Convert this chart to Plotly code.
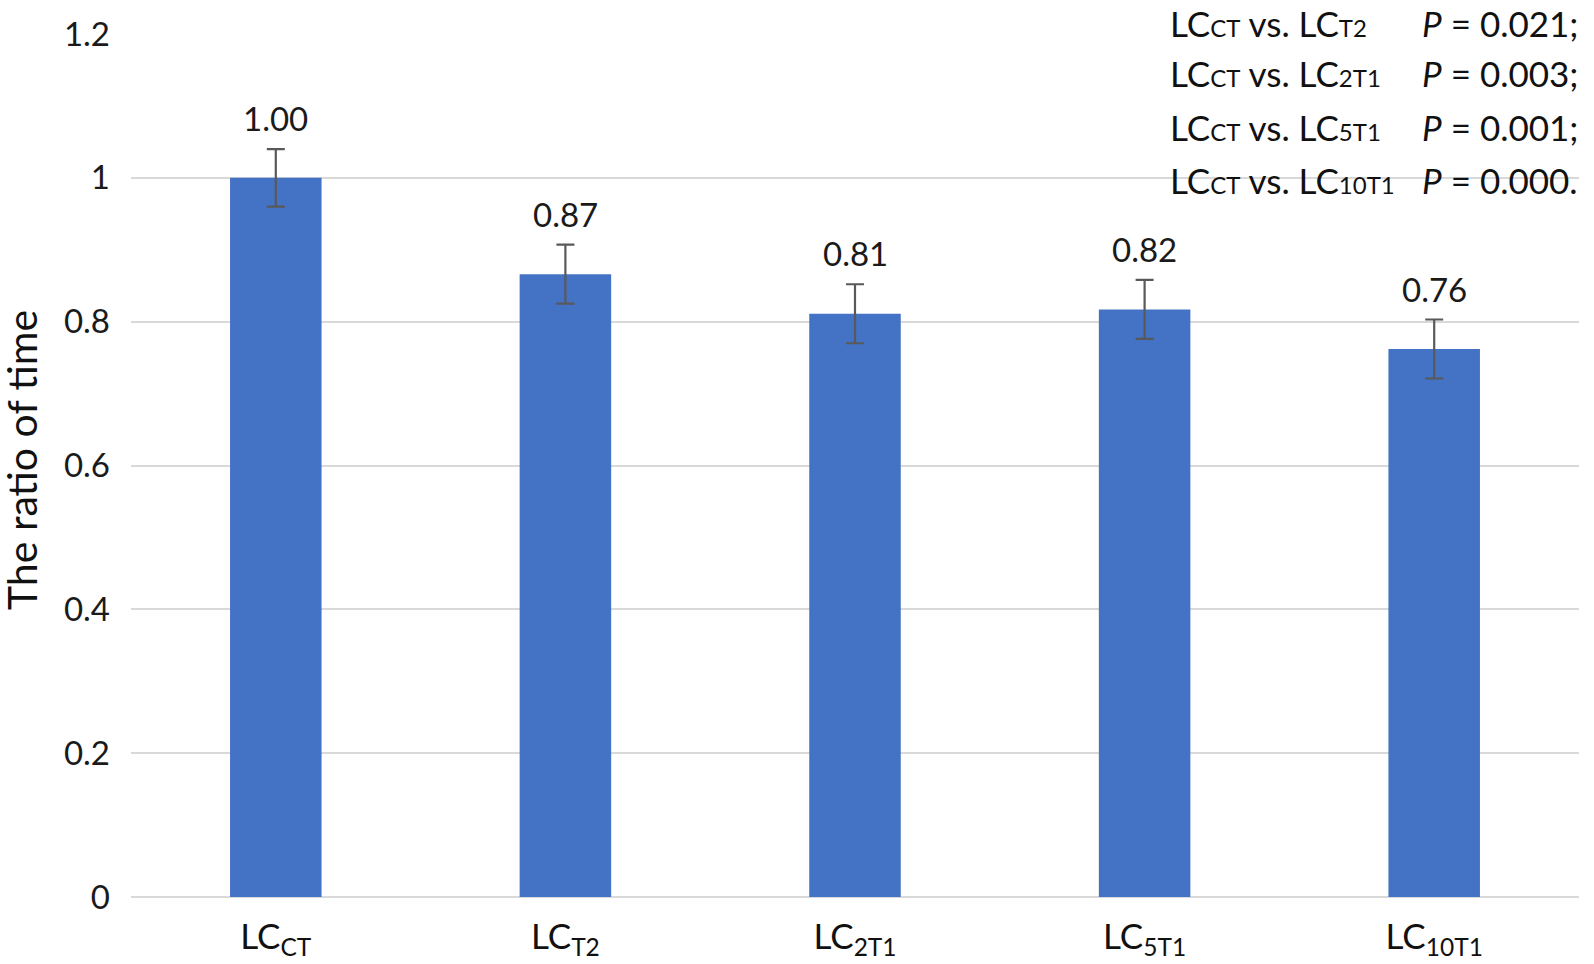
import plotly.graph_objects as go

categories = ["LC<sub>CT</sub>", "LC<sub>T2</sub>", "LC<sub>2T1</sub>", "LC<sub>5T1</sub>", "LC<sub>10T1</sub>"]
values = [1.00, 0.866, 0.811, 0.817, 0.762]
errors = [0.040, 0.041, 0.041, 0.041, 0.041]
labels = ["1.00", "0.87", "0.81", "0.82", "0.76"]

cmp_left = ["CT", "CT", "CT", "CT"]
cmp_right = ["T2", "2T1", "5T1", "10T1"]
p_values = ["0.021;", "0.003;", "0.001;", "0.000."]

y_title = "The ratio of time"

W, H = 1594, 964
L, R, T, B = 131, 1579, 34, 897
FONT = "Lato"

fig = go.Figure()
fig.add_trace(go.Bar(
    x=categories, y=values,
    marker=dict(color="#4472C4", line=dict(width=0)),
    error_y=dict(type="data", array=errors, visible=True,
                 color="#595959", thickness=2.2, width=9),
    showlegend=False, hoverinfo="skip",
))

# data labels above error bars
for c, v, e, t in zip(categories, values, errors, labels):
    fig.add_annotation(x=c, y=v + e, xref="x", yref="y", text=t,
                       showarrow=False, yanchor="bottom", yshift=9,
                       font=dict(family=FONT, size=33, color="#1a1a1a"))

def px_x(x):
    return (x - L) / (R - L)

def px_y(y):
    return (B - y) / (B - T)

row_y = [23, 73, 127, 180]
for yy, a, b, p in zip(row_y, cmp_left, cmp_right, p_values):
    fig.add_annotation(
        x=px_x(1168), y=px_y(yy), xref="paper", yref="paper",
        xanchor="left", yanchor="middle", showarrow=False,
        text=f"LC<span style='font-size:24px'>{a}</span> vs. LC<span style='font-size:24px'>{b}</span>",
        font=dict(family=FONT, size=35, color="#111111"))
    fig.add_annotation(
        x=px_x(1420), y=px_y(yy), xref="paper", yref="paper",
        xanchor="left", yanchor="middle", showarrow=False,
        text=f"<i>P</i> = {p}",
        font=dict(family=FONT, size=35, color="#111111"))

# y-axis title
fig.add_annotation(
    x=px_x(21), y=px_y(460), xref="paper", yref="paper",
    xanchor="center", yanchor="middle", showarrow=False, textangle=-90,
    text=y_title, font=dict(family=FONT, size=41, color="#111111"))

fig.update_layout(
    width=W, height=H,
    margin=dict(l=L, r=W - R, t=T, b=H - B, autoexpand=False),
    plot_bgcolor="white", paper_bgcolor="white",
    bargap=0.684,
    font=dict(family=FONT, color="#1a1a1a"),
    xaxis=dict(showgrid=False, showline=False, ticks="", automargin=False,
               tickfont=dict(family=FONT, size=35, color="#111111"),
               ticklabelstandoff=16),
    yaxis=dict(range=[0, 1.2], dtick=0.2, showgrid=True, automargin=False,
               gridcolor="#d9d9d9", gridwidth=2,
               zeroline=True, zerolinecolor="#d9d9d9", zerolinewidth=2,
               showline=False, ticks="",
               tickfont=dict(family=FONT, size=33, color="#1a1a1a"),
               ticklabelstandoff=20),
)

fig.write_html("out.html", config={"displayModeBar": False},
               post_script="document.body.style.margin='0';")
